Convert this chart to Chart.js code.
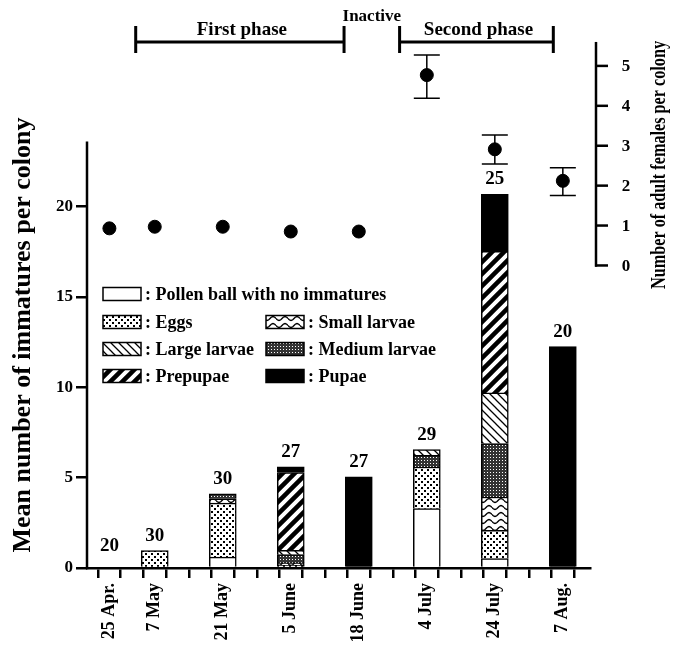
<!DOCTYPE html>
<html>
<head>
<meta charset="utf-8">
<script src="https://cdn.jsdelivr.net/npm/chart.js@4.4.1/dist/chart.umd.min.js"></script>
<style>
  html, body { margin: 0; padding: 0; background: #fff; }
  #wrap { width: 675px; height: 646px; position: relative; }
</style>
</head>
<body>
<div id="wrap"><canvas id="chart"></canvas></div>
<script>
// sampling dates and the tick (of 0..20) each one sits on
const dates = ["25 Apr.", "7 May", "21 May", "5 June", "18 June", "4 July", "24 July", "7 Aug."];
const datePos = [0, 2, 5, 8, 11, 14, 17, 20];
// number of colonies examined on each date
const sampleSizes = [20, 30, 30, 27, 27, 29, 25, 20];

// mean number of immatures per colony, by stage (bottom to top of each bar)
const pollenBall   = [0, 0, 0.6, 0, 0, 3.29, 0.52, 0];
const eggs         = [0, 0.96, 2.99, 0.15, 0, 2.3, 1.57, 0];
const smallLarvae  = [0, 0, 0.24, 0.13, 0, 0, 1.84, 0];
const mediumLarvae = [0, 0, 0.28, 0.46, 0, 0.65, 2.96, 0];
const largeLarvae  = [0, 0, 0, 0.24, 0, 0.31, 2.8, 0];
const prepupae     = [0, 0, 0, 4.3, 0, 0, 7.84, 0];
const pupae        = [0, 0, 0, 0.32, 5.05, 0, 3.15, 12.25];

// adult females per colony (right axis) and the error bar ends
const femaleMean = [0.93, 0.97, 0.97, 0.85, 0.85, 4.77, 2.91, 2.12];
const femaleHigh = [null, null, null, null, null, 5.27, 3.27, 2.45];
const femaleLow  = [null, null, null, null, null, 4.19, 2.54, 1.75];

// activity phases along the date axis
const phaseNames = ["First phase", "Second phase"];
const phaseStart = [1.16, 12.8];
const phaseEnd   = [10.35, 19.58];

const leftTicks = [0, 5, 10, 15, 20];
const rightTicks = [0, 1, 2, 3, 4, 5];

const FONT = "'Liberation Serif', 'DejaVu Serif', serif";

// small repeating tiles for the hatched fills
function tile(w, h, paint) {
  const c = document.createElement("canvas");
  c.width = w;
  c.height = h;
  const g = c.getContext("2d");
  g.fillStyle = "#fff";
  g.fillRect(0, 0, w, h);
  g.fillStyle = "#000";
  g.strokeStyle = "#000";
  paint(g, w, h);
  return g.createPattern(c, "repeat");
}

const fills = {
  pollen: "#fff",
  eggs: tile(6, 6, (g) => {
    g.fillRect(1, 1, 2, 2);
    g.fillRect(4, 4, 2, 2);
  }),
  small: tile(12, 7, (g, w) => {
    g.lineWidth = 1.4;
    g.beginPath();
    for (let x = 0; x <= w; x++) {
      const y = 3.5 + 2 * Math.sin((x / w) * 2 * Math.PI);
      if (x === 0) g.moveTo(x, y);
      else g.lineTo(x, y);
    }
    g.stroke();
  }),
  medium: tile(3, 3, (g) => {
    g.fillStyle = "#333";
    g.fillRect(0, 0, 3, 3);
    g.fillStyle = "#fff";
    g.fillRect(1, 1, 1, 1);
  }),
  large: tile(8, 8, (g) => {
    g.lineWidth = 1.3;
    g.beginPath();
    g.moveTo(-1, -1); g.lineTo(9, 9);
    g.moveTo(-1, 7); g.lineTo(1, 9);
    g.moveTo(7, -1); g.lineTo(9, 1);
    g.stroke();
  }),
  prepupae: tile(12, 12, (g) => {
    g.lineWidth = 4.5;
    g.beginPath();
    g.moveTo(-2, 14); g.lineTo(14, -2);
    g.moveTo(-2, 2); g.lineTo(2, -2);
    g.moveTo(10, 14); g.lineTo(14, 10);
    g.stroke();
  }),
  pupae: "#000",
};

const stages = [
  { label: "Pollen ball with no immatures", values: pollenBall, fill: fills.pollen },
  { label: "Eggs", values: eggs, fill: fills.eggs },
  { label: "Small larvae", values: smallLarvae, fill: fills.small },
  { label: "Medium larvae", values: mediumLarvae, fill: fills.medium },
  { label: "Large larvae", values: largeLarvae, fill: fills.large },
  { label: "Prepupae", values: prepupae, fill: fills.prepupae },
  { label: "Pupae", values: pupae, fill: fills.pupae },
];

const barSets = stages.map((s) => ({
  type: "bar",
  label: s.label,
  data: datePos.map((x, i) => ({ x: x, y: s.values[i] })).filter((p) => p.y > 0),
  backgroundColor: s.fill,
  borderColor: "#000",
  borderWidth: 1.5,
  barThickness: 27,
  yAxisID: "y",
}));

const femaleSet = {
  type: "scatter",
  label: "Adult females",
  data: datePos.map((x, i) => ({ x: x, y: femaleMean[i] })),
  yAxisID: "y1",
  backgroundColor: "#000",
  borderColor: "#000",
  pointRadius: 6.5,
  stack: "females",
};

// legend layout: [stage index, row, column]
const legendCells = [[0, 0, 0], [1, 1, 0], [2, 1, 1], [4, 2, 0], [3, 2, 1], [5, 3, 0], [6, 3, 1]];

const decor = {
  id: "decor",
  afterDatasetsDraw(chart) {
    const ctx = chart.ctx;
    const xs = chart.scales.x;
    const y = chart.scales.y;
    const y1 = chart.scales.y1;
    ctx.save();
    ctx.strokeStyle = "#000";
    ctx.fillStyle = "#000";

    // left axis line, which stops short of the top of the plot
    ctx.lineWidth = 2.5;
    ctx.beginPath();
    ctx.moveTo(chart.chartArea.left, y.getPixelForValue(23.6));
    ctx.lineTo(chart.chartArea.left, y.getPixelForValue(0) + 1.25);
    ctx.stroke();

    // error bars for adult females
    ctx.lineWidth = 1.5;
    femaleMean.forEach((m, i) => {
      if (femaleHigh[i] == null) return;
      const px = xs.getPixelForValue(datePos[i]);
      const hi = y1.getPixelForValue(femaleHigh[i]);
      const lo = y1.getPixelForValue(femaleLow[i]);
      ctx.beginPath();
      ctx.moveTo(px, hi); ctx.lineTo(px, lo);
      ctx.moveTo(px - 13, hi); ctx.lineTo(px + 13, hi);
      ctx.moveTo(px - 13, lo); ctx.lineTo(px + 13, lo);
      ctx.stroke();
    });

    // sample sizes above the bars
    ctx.font = "bold 19px " + FONT;
    ctx.textAlign = "center";
    ctx.textBaseline = "alphabetic";
    sampleSizes.forEach((n, i) => {
      const total = stages.reduce((sum, s) => sum + s.values[i], 0);
      const px = xs.getPixelForValue(datePos[i]);
      const py = y.getPixelForValue(total);
      ctx.fillText(String(n), px, py - (total > 0 ? 10 : 17));
    });
    ctx.restore();
  },
  afterDraw(chart) {
    const ctx = chart.ctx;
    const xs = chart.scales.x;
    const y1 = chart.scales.y1;
    const area = chart.chartArea;
    ctx.save();
    ctx.strokeStyle = "#000";
    ctx.fillStyle = "#000";

    // right axis (adult females)
    const ax = area.right + 6;
    const bottom = y1.getPixelForValue(0);
    const top = y1.getPixelForValue(5.6);
    ctx.lineWidth = 2.5;
    ctx.beginPath();
    ctx.moveTo(ax, top);
    ctx.lineTo(ax, bottom + 1.25);
    ctx.stroke();
    ctx.font = "bold 17px " + FONT;
    ctx.textAlign = "center";
    ctx.textBaseline = "middle";
    rightTicks.forEach((v) => {
      const py = y1.getPixelForValue(v);
      ctx.beginPath();
      ctx.moveTo(ax - 1, py);
      ctx.lineTo(ax + 12, py);
      ctx.stroke();
      ctx.fillText(String(v), ax + 30, py + 1);
    });

    // axis titles
    ctx.font = "bold 26px " + FONT;
    ctx.save();
    ctx.translate(23, 335);
    ctx.rotate(-Math.PI / 2);
    ctx.fillText("Mean number of immatures per colony", 0, 0, 440);
    ctx.restore();
    ctx.font = "bold 20px " + FONT;
    ctx.save();
    ctx.translate(660, 165);
    ctx.rotate(-Math.PI / 2);
    ctx.fillText("Number of adult females per colony", 0, 0, 248);
    ctx.restore();

    // phase brackets
    ctx.lineWidth = 3;
    ctx.font = "bold 19px " + FONT;
    ctx.textBaseline = "alphabetic";
    phaseNames.forEach((name, i) => {
      const a = xs.getPixelForValue(phaseStart[i]);
      const b = xs.getPixelForValue(phaseEnd[i]);
      ctx.beginPath();
      ctx.moveTo(a, 42); ctx.lineTo(b, 42);
      ctx.moveTo(a, 26); ctx.lineTo(a, 53);
      ctx.moveTo(b, 26); ctx.lineTo(b, 53);
      ctx.stroke();
      ctx.fillText(name, (a + b) / 2 + 2, 35, name.length * 9.5);
    });
    const inactiveX = (xs.getPixelForValue(phaseEnd[0]) + xs.getPixelForValue(phaseStart[1])) / 2;
    ctx.font = "bold 17px " + FONT;
    ctx.fillText("Inactive", inactiveX, 21, 64);

    // legend
    const rowY = [294, 322, 349, 376];
    const colX = [103, 266];
    ctx.font = "bold 18px " + FONT;
    ctx.textAlign = "left";
    ctx.textBaseline = "middle";
    ctx.lineWidth = 1.5;
    legendCells.forEach(([k, r, c]) => {
      const sx = colX[c];
      const sy = rowY[r] - 6.5;
      ctx.fillStyle = stages[k].fill;
      ctx.fillRect(sx, sy, 38, 13);
      ctx.strokeRect(sx, sy, 38, 13);
      ctx.fillStyle = "#000";
      ctx.fillText(": " + stages[k].label, sx + 42, rowY[r] + 1);
    });
    ctx.restore();
  },
};

Chart.defaults.font.family = FONT;
Chart.defaults.font.weight = "bold";
Chart.defaults.color = "#000";

new Chart(document.getElementById("chart"), {
  type: "bar",
  data: { datasets: [...barSets, femaleSet] },
  options: {
    responsive: true,
    maintainAspectRatio: false,
    animation: false,
    layout: { padding: { top: 20, right: 85, left: 0, bottom: 0 } },
    plugins: { legend: { display: false }, tooltip: { enabled: false } },
    scales: {
      x: {
        type: "linear",
        stacked: true,
        min: -0.46,
        max: 20.67,
        afterBuildTicks: (s) => {
          s.ticks = [];
          for (let i = 0; i <= 20; i++) s.ticks.push({ value: i });
        },
        afterFit: (s) => { s.height = 78; },
        ticks: {
          autoSkip: false,
          minRotation: 90,
          maxRotation: 90,
          padding: 5,
          font: { size: 18, weight: "bold" },
          callback: (v) => {
            const k = datePos.indexOf(v);
            return k >= 0 ? dates[k] : "";
          },
        },
        grid: { drawOnChartArea: false, tickLength: 10, lineWidth: 2.5, color: "#000" },
        border: { color: "#000", width: 2.5 },
      },
      y: {
        type: "linear",
        position: "left",
        stacked: true,
        min: 0,
        max: 30.33,
        afterBuildTicks: (s) => { s.ticks = leftTicks.map((v) => ({ value: v })); },
        afterFit: (s) => { s.width = 87; },
        ticks: { padding: 3, font: { size: 17, weight: "bold" } },
        grid: { drawOnChartArea: false, tickLength: 11, lineWidth: 2.5, color: "#000" },
        border: { display: false },
      },
      y1: {
        type: "linear",
        position: "right",
        display: false,
        min: -7.58,
        max: 6.15,
      },
    },
  },
  plugins: [decor],
});
</script>
</body>
</html>
